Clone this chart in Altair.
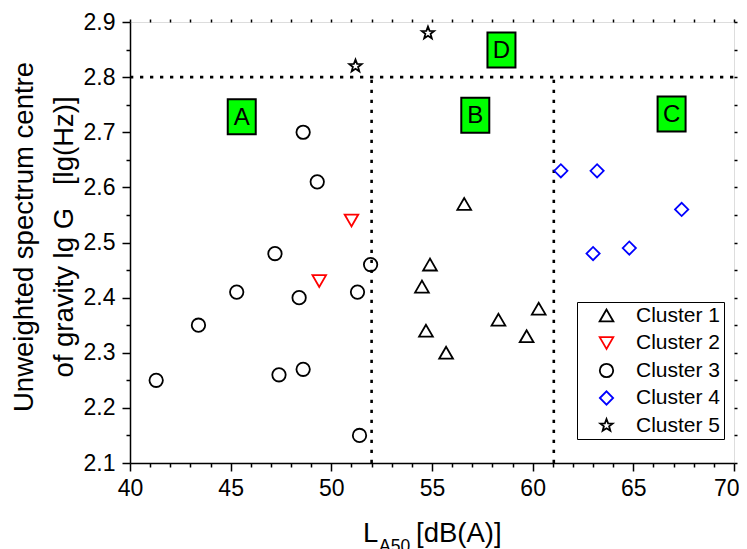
import altair as alt
import pandas as pd

FONT = "Liberation Sans"

# ---- data ----
clusters = ["Cluster 1", "Cluster 2", "Cluster 3", "Cluster 4", "Cluster 5"]
c1_x = [56.6, 54.9, 54.5, 54.7, 55.7, 58.3, 59.7, 60.3]
c1_y = [2.57, 2.46, 2.42, 2.34, 2.30, 2.36, 2.33, 2.38]
c2_x = [51.0, 49.4]
c2_y = [2.54, 2.43]
c3_x = [48.6, 49.3, 47.2, 51.95, 41.3, 43.4, 45.3, 48.4, 47.4, 48.6, 51.3, 51.4]
c3_y = [2.70, 2.61, 2.48, 2.46, 2.25, 2.35, 2.41, 2.40, 2.26, 2.27, 2.41, 2.15]
c4_x = [61.4, 63.2, 67.4, 63.0, 64.8]
c4_y = [2.63, 2.63, 2.56, 2.48, 2.49]
c5_x = [51.2, 54.8]
c5_y = [2.82, 2.88]

zone_text = ["A", "B", "C", "D"]
zone_x = [45.55, 57.15, 66.9, 58.45]
zone_y = [2.728, 2.731, 2.733, 2.849]

h_line_x = [40.0]
h_line_x2 = [70.0]
h_line_y = [2.8]
v_line_x = [52.0, 61.05]
v_line_y1 = [2.1, 2.1]
v_line_y2 = [2.8, 2.8]

x_major = [40, 45, 50, 55, 60, 65]
x_last = [70]
x_minor = [41, 42, 43, 44, 46, 47, 48, 49, 51, 52, 53, 54, 56, 57, 58, 59,
           61, 62, 63, 64, 66, 67, 68, 69]
x_all = list(range(40, 71))
y_major = [2.1, 2.2, 2.3, 2.4, 2.5, 2.6, 2.7, 2.8, 2.9]
y_minor = [2.15, 2.25, 2.35, 2.45, 2.55, 2.65, 2.75, 2.85]
y_all = [2.1, 2.15, 2.2, 2.25, 2.3, 2.35, 2.4, 2.45, 2.5, 2.55, 2.6, 2.65,
         2.7, 2.75, 2.8, 2.85, 2.9]

STAR = ("M0,-1L0.247,-0.34L0.951,-0.309L0.4,0.13L0.588,0.809L0,0.42"
        "L-0.588,0.809L-0.4,0.13L-0.951,-0.309L-0.247,-0.34Z")
BOX = "M-0.8,-1L0.8,-1L0.8,1L-0.8,1Z"

rows = []
for name, xs_, ys_ in zip(clusters, [c1_x, c2_x, c3_x, c4_x, c5_x],
                          [c1_y, c2_y, c3_y, c4_y, c5_y]):
    for a, b in zip(xs_, ys_):
        rows.append({"x": a, "y": b, "cluster": name})
pts = pd.DataFrame(rows)

xs = alt.Scale(domain=[40, 70], nice=False, zero=False)
ys = alt.Scale(domain=[2.1, 2.9], nice=False, zero=False)

MAJ = dict(title=None, labelFontSize=23, labelFont=FONT, labelColor="black",
           tickSize=8, tickWidth=1.5, tickColor="black", grid=False)

def minor_axis(values, orient, size=4):
    return alt.Axis(values=values, orient=orient, labels=False, title=None,
                    tickSize=size, tickWidth=1.5, tickColor="black",
                    domain=False, grid=False)

# dotted boundaries
hline = alt.Chart(pd.DataFrame({"x": h_line_x, "x2": h_line_x2, "y": h_line_y})).mark_rule(
    color="black", strokeWidth=2.6, strokeDash=[3.3, 6.7]
).encode(
    x=alt.X("x:Q", scale=xs, axis=alt.Axis(
        values=x_last, orient="bottom", domain=False, labelPadding=6,
        labelFlush=True, labelFlushOffset=5, **MAJ)),
    x2="x2:Q",
    y=alt.Y("y:Q", scale=ys, axis=None),
)
vline = alt.Chart(pd.DataFrame({"x": v_line_x, "y1": v_line_y1, "y2": v_line_y2})).mark_rule(
    color="black", strokeWidth=2.6, strokeDash=[3.3, 6.7]
).encode(
    x=alt.X("x:Q", scale=xs, axis=minor_axis(x_minor, "bottom")),
    y=alt.Y("y1:Q", scale=ys, axis=minor_axis(y_minor, "left")), y2="y2:Q",
)

zones = pd.DataFrame({"x": zone_x, "y": zone_y, "t": zone_text})
boxes = alt.Chart(zones).mark_point(
    shape=BOX, size=1225, filled=True, fill="#00ff00", stroke="black",
    strokeWidth=2, opacity=1
).encode(
    x=alt.X("x:Q", scale=xs, axis=minor_axis(x_all, "top", 3)),
    y=alt.Y("y:Q", scale=ys, axis=minor_axis(y_all, "right", 3)),
)
letters = alt.Chart(zones).mark_text(
    fontSize=24, font=FONT, color="black", baseline="middle", align="center", dy=1
).encode(
    x=alt.X("x:Q", scale=xs, axis=None),
    y=alt.Y("y:Q", scale=ys, axis=None),
    text="t:N",
)

LEG = dict(
    title=None, orient="none", legendX=447, legendY=280,
    strokeColor="black", fillColor="white", padding=3,
    rowPadding=5.5, symbolOffset=16, labelOffset=19, symbolSize=180,
    symbolStrokeWidth=1.8, labelFontSize=21, labelFont=FONT,
    labelColor="black", cornerRadius=0)

points = alt.Chart(pts).mark_point(filled=False, strokeWidth=1.8, opacity=1).encode(
    x=alt.X("x:Q", scale=xs, axis=alt.Axis(
        values=x_major, orient="bottom", domainColor="black", domainWidth=1.5,
        labelPadding=6, labelFlush=False, **MAJ)),
    y=alt.Y("y:Q", scale=ys, axis=alt.Axis(
        values=y_major, orient="left", format=".1f", domainColor="black",
        domainWidth=1.5, labelPadding=7, labelFlush=False, **MAJ)),
    shape=alt.Shape("cluster:N", scale=alt.Scale(
        domain=clusters,
        range=["triangle-up", "triangle-down", "circle", "diamond", STAR]),
        legend=alt.Legend(**LEG)),
    color=alt.Color("cluster:N", scale=alt.Scale(
        domain=clusters,
        range=["#000000", "#ff0000", "#000000", "#0000ff", "#000000"]),
        legend=alt.Legend(**LEG)),
    size=alt.Size("cluster:N", scale=alt.Scale(
        domain=clusters, range=[190, 170, 128, 225, 200]), legend=None),
)

def label(txt, x, y, size, angle=0, align="left"):
    return alt.Chart(pd.DataFrame({"t": [txt]})).mark_text(
        fontSize=size, font=FONT, color="black", align=align,
        baseline="alphabetic", angle=angle
    ).encode(x=alt.value(x), y=alt.value(y), text="t:N")

titles = [
    label("L", 233, 520, 27.5),
    label("A50", 249, 529.5, 17.5),
    label("[dB(A)]", 286, 520, 27.5),
    label("Unweighted spectrum centre", -97, 215, 27.5, 270, "center"),
    label("of gravity lg G\u00a0\u00a0\u00a0[lg(Hz)]", -57, 215, 27.5, 270, "center"),
]

chart = alt.layer(hline, vline, boxes, letters, points, *titles).resolve_axis(
    x="independent", y="independent"
).resolve_legend(color="shared", shape="shared").properties(
    width=604, height=441,
    autosize=alt.AutoSizeParams(type="none"),
    padding={"left": 122, "top": 14, "right": 5, "bottom": 86},
).configure_view(stroke="black", strokeWidth=1.5).configure(background="white")

chart.save("out.html", embed_options={"renderer": "svg", "actions": False})
